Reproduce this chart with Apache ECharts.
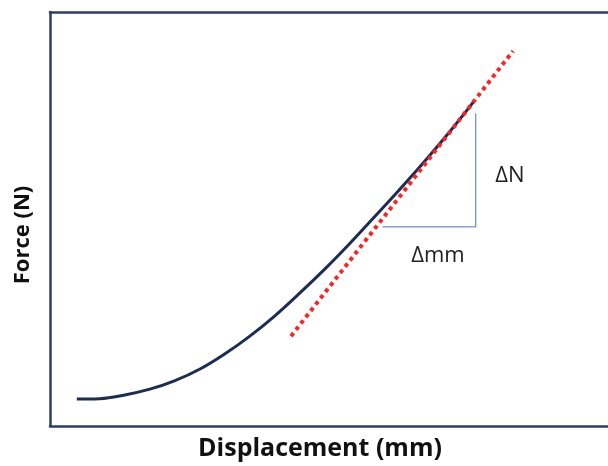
<!DOCTYPE html>
<html>
<head>
<meta charset="utf-8">
<script src="https://cdn.jsdelivr.net/npm/echarts@6/dist/echarts.min.js"></script>
<style>
  html, body { margin: 0; padding: 0; background: #fff; }
  #chart { width: 608px; height: 466px; }
</style>
</head>
<body>
<div id="chart"></div>
<script>
// Force-displacement curve (arbitrary units, 0-100 on both axes)
const curveX = [4.8, 8.9, 13.4, 17.9, 22.3, 26.8, 31.3, 35.7, 40.2, 44.6, 49.1, 53.6, 58.0, 62.5, 67.0, 71.4, 75.9];
const curveY = [6.5, 6.6, 7.5, 8.9, 10.9, 13.7, 17.4, 21.6, 26.5, 31.9, 37.7, 43.9, 50.3, 56.9, 63.7, 70.7, 78.3];

// Tangent (stiffness) line
const tangentX = [43.2, 83.0];
const tangentY = [21.7, 90.6];

// Slope triangle: horizontal leg then vertical leg
const triangleX = [59.6, 76.3, 76.3];
const triangleY = [48.1, 48.1, 75.5];

const xTitle = 'Displacement (mm)';
const yTitle = 'Force (N)';
const dxLabel = 'Δmm';
const dyLabel = 'ΔN';

const chart = echarts.init(document.getElementById('chart'));

const zip = (xs, ys) => xs.map((x, i) => [x, ys[i]]);

const frameLine = { show: true, lineStyle: { color: '#2b3f6b', width: 2.5 } };
const bare = {
    type: 'value',
    min: 0,
    max: 100,
    axisTick: { show: false },
    axisLabel: { show: false },
    splitLine: { show: false }
};

const option = {
    animation: false,
    grid: {
        left: 50,
        top: 12,
        right: -2,
        bottom: 40
    },
    xAxis: [
        Object.assign({}, bare, { position: 'bottom', axisLine: frameLine }),
        Object.assign({}, bare, { position: 'top', axisLine: frameLine })
    ],
    yAxis: Object.assign({}, bare, { position: 'left', axisLine: frameLine }),
    series: [
        {
            type: 'line',
            data: zip(triangleX, triangleY),
            showSymbol: false,
            lineStyle: { color: '#4a72c4', width: 1 },
            z: 1
        },
        {
            type: 'line',
            data: zip(curveX, curveY),
            smooth: 0.4,
            showSymbol: false,
            lineStyle: { color: '#1b2d52', width: 3 },
            z: 2
        },
        {
            type: 'line',
            data: zip(tangentX, tangentY),
            showSymbol: false,
            lineStyle: { color: '#ff2222', width: 4, type: [4, 4] },
            z: 3
        }
    ],
    graphic: [
        {
            type: 'text',
            x: 320,
            y: 436,
            style: {
                text: xTitle,
                fill: '#111',
                font: 'bold 25px "Open Sans", sans-serif',
                align: 'center'
            }
        },
        {
            type: 'text',
            x: 23,
            y: 235,
            rotation: Math.PI / 2,
            style: {
                text: yTitle,
                fill: '#111',
                font: 'bold 22px "Open Sans", sans-serif',
                align: 'center',
                verticalAlign: 'middle'
            }
        },
        {
            type: 'text',
            x: 510,
            y: 176,
            style: {
                text: dyLabel,
                fill: '#222',
                font: '22px "Open Sans", sans-serif',
                align: 'center',
                verticalAlign: 'middle'
            }
        },
        {
            type: 'text',
            x: 438,
            y: 256,
            style: {
                text: dxLabel,
                fill: '#222',
                font: '22px "Open Sans", sans-serif',
                align: 'center',
                verticalAlign: 'middle'
            }
        }
    ]
};

chart.setOption(option);
</script>
</body>
</html>
